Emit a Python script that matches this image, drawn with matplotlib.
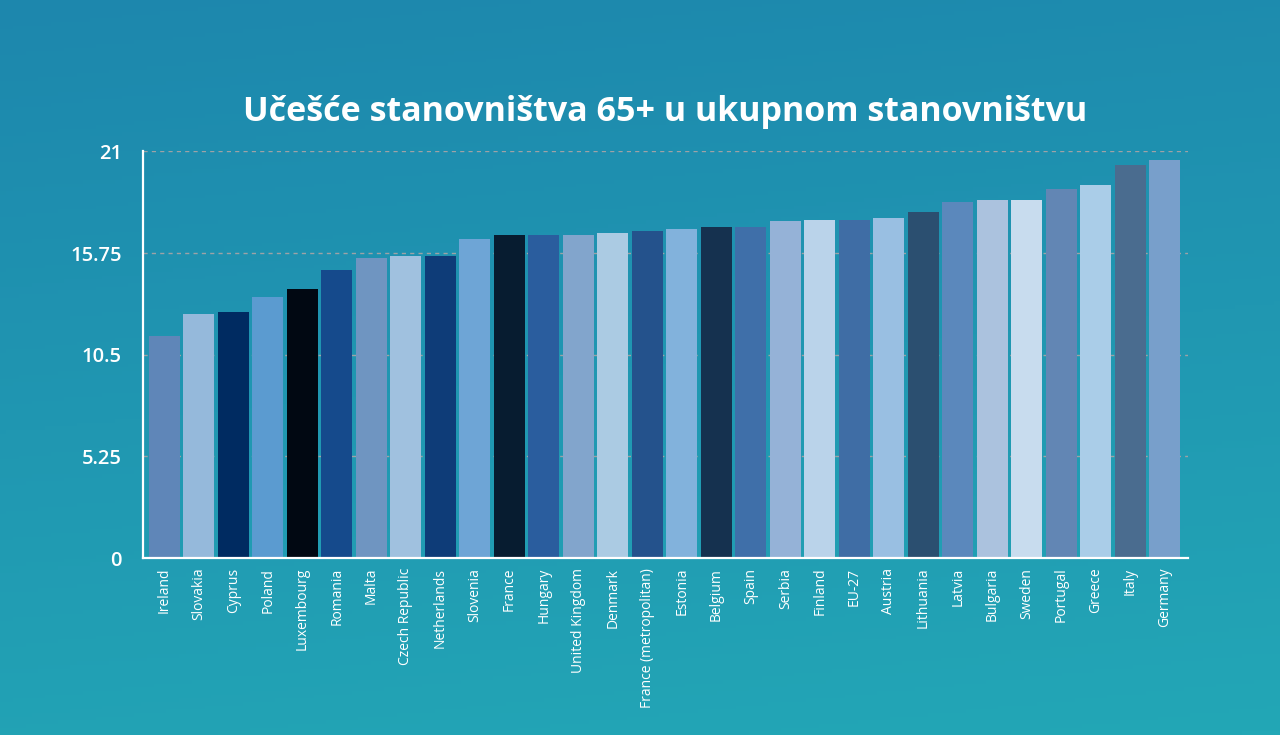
import matplotlib.pyplot as plt
import numpy as np
from matplotlib.colors import LinearSegmentedColormap

plt.rcParams['font.family'] = ['Open Sans', 'DejaVu Sans']

# podaci: udeo stanovnistva 65+ (%)
countries = ['Ireland', 'Slovakia', 'Cyprus', 'Poland', 'Luxembourg', 'Romania', 'Malta',
             'Czech Republic', 'Netherlands', 'Slovenia', 'France', 'Hungary', 'United Kingdom',
             'Denmark', 'France (metropolitan)', 'Estonia', 'Belgium', 'Spain', 'Serbia',
             'Finland', 'EU-27', 'Austria', 'Lithuania', 'Latvia', 'Bulgaria', 'Sweden',
             'Portugal', 'Greece', 'Italy', 'Germany']
values = [11.47, 12.60, 12.70, 13.48, 13.90, 14.88, 15.50, 15.60, 15.60, 16.48, 16.69, 16.69,
          16.69, 16.79, 16.90, 17.00, 17.10, 17.08, 17.41, 17.46, 17.46, 17.57, 17.88, 18.40,
          18.50, 18.50, 19.07, 19.28, 20.30, 20.56]
bar_colors = ['#5f86b8', '#95b9db', '#002b61', '#5b9bd0', '#010812', '#154a8c', '#6f95c1',
              '#a0c1df', '#0e3c78', '#6ea5d6', '#071c30', '#2a5d9e', '#82a5cc', '#abcbe3',
              '#24528c', '#82b2dc', '#15314f', '#3f6fa9', '#95b2d7', '#bad3ea', '#3f6da5',
              '#99bfe2', '#2b4f70', '#5b88bc', '#abc2de', '#c8dcee', '#6286b4', '#aacde8',
              '#4a6c8f', '#789fcb']
y_ticks = [0, 5.25, 10.5, 15.75, 21]
y_tick_labels = ['0', '5.25', '10.5', '15.75', '21']
title = 'Učešće stanovništva 65+ u ukupnom stanovništvu'

fig = plt.figure(figsize=(12.8, 7.35), dpi=100)

# pozadina sa gradijentom
bg = fig.add_axes([0, 0, 1, 1], zorder=-10)
grad_cmap = LinearSegmentedColormap.from_list('bg', ['#1d87ad', '#23a7b6'])
yy, xx = np.mgrid[0:1:200j, 0:1:200j]
bg.imshow(yy * 0.85 + xx * 0.15, cmap=grad_cmap, aspect='auto', extent=[0, 1, 0, 1],
          origin='upper', vmin=0, vmax=1)
bg.axis('off')

ax = fig.add_axes([0.1115, 0.2408, 0.8165, 0.5531])
ax.patch.set_alpha(0)
x = np.arange(len(countries))
ax.bar(x, values, width=0.9, color=bar_colors, zorder=3)

ax.set_xlim(-0.63, len(countries) - 1 + 0.67)
ax.set_ylim(0, 21)
ax.set_yticks(y_ticks)
ax.set_yticklabels(y_tick_labels, fontsize=14.5, color='white', fontweight='semibold')
ax.set_xticks(x)
ax.set_xticklabels(countries, rotation=90, fontsize=10, color='white')
ax.tick_params(axis='both', length=0)
ax.tick_params(axis='y', pad=15)
ax.tick_params(axis='x', pad=7)

ax.grid(axis='y', linestyle=(0, (3, 3)), color='#9ea2a6', linewidth=1, zorder=0)
for s in ['top', 'right']:
    ax.spines[s].set_visible(False)
for s in ['left', 'bottom']:
    ax.spines[s].set_color('white')
    ax.spines[s].set_linewidth(1.6)
    ax.spines[s].set_zorder(4)

ax.set_title(title, fontsize=24.5, fontweight='bold', color='white', pad=22)

fig.savefig('out.png', dpi=100)
